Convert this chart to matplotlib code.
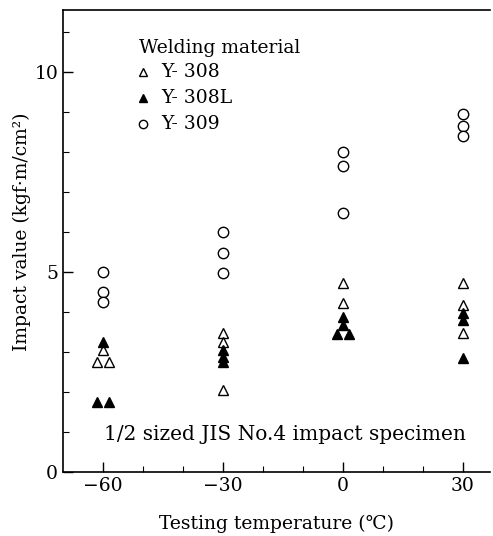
import numpy as np
import matplotlib
matplotlib.use("Agg")
import matplotlib.pyplot as plt
from matplotlib.ticker import MultipleLocator, FixedLocator

plt.rcParams['font.family'] = ['DejaVu Serif', 'DejaVu Sans']

# test temperatures (C) and small x offsets where markers sit side by side
# Y-308 (open triangles)
y308_t = [-60, -61.5, -58.5, -30, -30, -30, 0, 0, 30, 30, 30]
y308_v = [3.05, 2.75, 2.75, 3.47, 3.25, 2.05, 4.73, 4.22, 4.73, 4.17, 3.47]
# Y-308L (filled triangles)
y308l_t = [-60, -61.5, -58.5, -30, -30, -30, 0, 0, -1.5, 1.5, 30, 30, 30]
y308l_v = [3.25, 1.75, 1.75, 3.05, 2.88, 2.75, 3.88, 3.67, 3.45, 3.45, 3.97, 3.8, 2.85]
# Y-309 (open circles)
y309_t = [-60, -60, -60, -30, -30, -30, 0, 0, 0, 30, 30, 30]
y309_v = [5.0, 4.5, 4.25, 6.0, 5.47, 4.98, 8.0, 7.65, 6.47, 8.95, 8.65, 8.4]

xtick_major = [-60, -30, 0, 30]
xtick_minor = [-50, -40, -20, -10, 10, 20]

fig = plt.figure(figsize=(4.93, 5.36), dpi=100)
ax = fig.add_axes([0.128, 0.1194, 0.866, 0.862])

ax.plot(y309_t, y309_v, 'o', ms=7.5, mfc='white', mec='black', mew=1.0, ls='none')
ax.plot(y308_t, y308_v, '^', ms=7.5, mfc='white', mec='black', mew=1.0, ls='none')
ax.plot(y308l_t, y308l_v, '^', ms=7.5, mfc='black', mec='black', mew=1.0, ls='none')

ax.set_xlim(-70, 36.75)
ax.set_ylim(0, 11.55)

ax.spines['right'].set_visible(False)
for s in ['left', 'bottom', 'top']:
    ax.spines[s].set_linewidth(1.2)

ax.xaxis.set_major_locator(FixedLocator(xtick_major))
ax.xaxis.set_minor_locator(FixedLocator(xtick_minor))
ax.yaxis.set_major_locator(MultipleLocator(5))
ax.yaxis.set_minor_locator(MultipleLocator(1))
ax.tick_params(which='both', direction='in', top=False, right=False, labelsize=13.5)
ax.tick_params(which='major', length=7, width=1)
ax.tick_params(which='minor', length=4, width=0.8)
ax.set_xticklabels(['\u221260', '\u221230', '0', '30'])

ax.set_xlabel('Testing temperature (\u2103)', fontsize=13.5, labelpad=14)
ax.set_ylabel('Impact value (kgf\u00b7m/cm\u00b2)', fontsize=13.5)
ax.yaxis.set_label_coords(-0.075, 0.52)

# legend drawn as text block
ax.text(-51, 10.6, 'Welding material', fontsize=13.5, va='center')
leg = [('Y- 308', 'white'), ('Y- 308L', 'black'), ('Y- 309', None)]
for i, (lab, fc) in enumerate(leg):
    yy = 10.0 - 0.65 * i
    if fc is None:
        ax.plot([-50], [yy], 'o', ms=6, mfc='white', mec='black', mew=1.0)
    else:
        ax.plot([-50], [yy], '^', ms=6, mfc=fc, mec='black', mew=1.0)
    ax.text(-45.5, yy, lab, fontsize=13.5, va='center')

ax.text(-14.5, 0.93, '1/2 sized JIS No.4 impact specimen', fontsize=14.5,
        ha='center', va='center')

fig.savefig('out.png', dpi=100)
